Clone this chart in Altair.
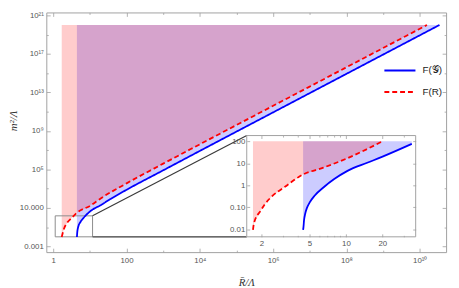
import math
import altair as alt
import pandas as pd

# ---------------- data ----------------
series_names = ["F(𝒢)", "F(R)"]
series_colors = ["#0000ff", "#ff0000"]

# main panel curves (R/Λ , m²/Λ)
red_main_x = [1.70, 1.96, 2.44, 3.13, 4.36, 10.3, 20.1, 100, 1e3, 1e4, 1e6, 1e8, 1.58e10]
red_main_y = [0.0092, 0.067, 0.31, 0.85, 2.96, 17, 100, 3500, 3.9e5, 4.0e7, 4.0e11, 4.0e15, 1e20]
blue_main_x = [4.42, 4.50, 4.75, 5.5, 6.62, 10.3, 20.1, 35.1, 100, 1e3, 1e4, 1e6, 1e8, 3.47e10]
blue_main_y = [0.0092, 0.025, 0.09, 0.33, 0.85, 4.5, 20, 76, 750, 7.9e4, 8.2e6, 8.3e10, 8.3e14, 1e20]
main_fill_top = 1e20

# inset curves
red_inset_x = [1.70, 1.73, 1.96, 2.13, 2.44, 3.13, 4.36, 6.5, 10.3, 20.1]
red_inset_y = [0.0092, 0.018, 0.067, 0.135, 0.31, 0.85, 2.96, 6.3, 17, 100]
blue_inset_x = [4.42, 4.45, 4.50, 4.60, 4.75, 5.0, 5.5, 6.62, 8.0, 10.3, 15.0, 20.1, 35.1]
blue_inset_y = [0.0092, 0.012, 0.025, 0.05, 0.09, 0.16, 0.33, 0.85, 1.9, 4.5, 10.5, 20, 76]
inset_fill_top = 100

# tick labels
main_x_labels = {1.0: "1", 100.0: "100", 1e4: "10⁴", 1e6: "10⁶", 1e8: "10⁸", 1e10: "10¹⁰"}
main_y_labels = {0.001: "0.001", 10.0: "10.000", 1e5: "10⁵", 1e9: "10⁹", 1e13: "10¹³",
                 1e17: "10¹⁷", 1e21: "10²¹"}
inset_x_labels = {2.0: "2", 5.0: "5", 10.0: "10", 20.0: "20"}
inset_y_labels = {0.01: "0.01", 0.1: "0.10", 1.0: "1", 10.0: "10", 100.0: "100"}
main_x_ticks = [10.0 ** k for k in range(0, 11)]
main_y_ticks = [0.001, 0.1, 10.0] + [10.0 ** k for k in range(3, 22, 2)]
inset_x_ticks = [2.0, 3.0, 4.0, 5.0, 6.0, 7.0, 8.0, 9.0, 10.0, 20.0, 30.0]
inset_y_ticks = [0.01, 0.1, 1.0, 10.0, 100.0]

# domains / placement
X_DOM = [10 ** -0.19, 10 ** 10.72]
Y_DOM = [10 ** -3.6, 10 ** 21.3]
inset_x_dom = [1.51, 37.8]
inset_y_dom = [10 ** -2.35, 10 ** 2.26]
inset_at_x = [10 ** 5.28, 10 ** 9.89]     # inset placement, in main-panel units
inset_at_y = [10 ** -2.01, 10 ** 8.51]
zoom_box_x = [1.13, 11.8]
zoom_box_y = [10 ** -2.01, 1.48]

# ---------------- layout ----------------
W, H = 407, 244
FONT = "Liberation Sans"
TFONT = "Liberation Serif"
GRAY = "#a0a0a0"


def lg(v):
    return math.log10(v)


def px(v):
    return W * (lg(v) - lg(X_DOM[0])) / (lg(X_DOM[1]) - lg(X_DOM[0]))


def py(v):
    return H * (lg(Y_DOM[1]) - lg(v)) / (lg(Y_DOM[1]) - lg(Y_DOM[0]))


IX_RANGE = [px(inset_at_x[0]), px(inset_at_x[1])]
IY_RANGE = [py(inset_at_y[0]), py(inset_at_y[1])]


def lab_expr(mapping):
    s = "''"
    for v, t in reversed(list(mapping.items())):
        s = f"datum.value == {v!r} ? '{t}' : ({s})"
    return s


def mk_axis(orient, values, offset, tick, label_map=None, minor_test=None, zindex=0,
            title=None, label_padding=3, **extra):
    kw = dict(orient=orient, values=values, offset=offset, tickSize=tick, domain=False,
              grid=False, tickColor=GRAY, tickWidth=0.8, zindex=zindex,
              labelFont=FONT, labelFontSize=8, labelColor="#555555",
              labelPadding=label_padding, labelFlush=False, labelOverlap=False)
    if label_map:
        kw["labelExpr"] = lab_expr(label_map)
    else:
        kw["labels"] = False
    if minor_test:
        h = tick / 2
        kw["tickDash"] = {"condition": {"test": minor_test, "value": [0, h, h, 0]},
                          "value": [tick, 0]}
    kw["title"] = title
    kw.update(extra)
    return alt.Axis(**kw)


minor_x_main = "abs(round(log(datum.value)/LN10)) % 2 == 1"
minor_y_main = "(round(log(datum.value)/LN10) + 3) % 4 != 0"
minor_x_inset = "datum.value != 2 && datum.value != 5 && datum.value != 10 && datum.value != 20"

title_kw = dict(titleFont=TFONT, titleFontStyle="italic", titleFontWeight="normal",
                titleFontSize=11, titleColor="#333333")


def sx_main():
    return alt.Scale(type="log", domain=X_DOM, nice=False)


def sy_main():
    return alt.Scale(type="log", domain=Y_DOM, nice=False)


def sx_in():
    return alt.Scale(type="log", domain=inset_x_dom, range=IX_RANGE, nice=False)


def sy_in():
    return alt.Scale(type="log", domain=inset_y_dom, range=IY_RANGE, nice=False)


ax_main_b = mk_axis("bottom", main_x_ticks, -4, 4, main_x_labels, minor_x_main,
                    title="R̄/Λ", label_padding=5, titlePadding=12, **title_kw)
ax_main_l = mk_axis("left", main_y_ticks, -4, 4, main_y_labels, minor_y_main,
                    title="m²/Λ", label_padding=3, titleX=-32, titleY=110,
                    titleBaseline="bottom", titleAngle=270, **title_kw)
ax_main_t = mk_axis("top", main_x_ticks, -4, 4, None, minor_x_main)
ax_main_r = mk_axis("right", main_y_ticks, -4, 4, None, minor_y_main)

ax_in_b = mk_axis("bottom", inset_x_ticks, IY_RANGE[0] - 3 - H, 3, inset_x_labels,
                  minor_x_inset, zindex=2, label_padding=3)
ax_in_l = mk_axis("left", inset_y_ticks, -(IX_RANGE[0] + 3), 3, inset_y_labels,
                  None, zindex=2, label_padding=2)
ax_in_t = mk_axis("top", inset_x_ticks, -(IY_RANGE[1] + 3), 3, None, minor_x_inset, zindex=2)
ax_in_r = mk_axis("right", inset_y_ticks, IX_RANGE[1] - 3 - W, 3, None, None, zindex=2)

# ---------------- data frames ----------------
red_main = pd.DataFrame({"x": red_main_x, "y": red_main_y, "top": main_fill_top,
                         "s": series_names[1]})
blue_main = pd.DataFrame({"x": blue_main_x, "y": blue_main_y, "top": main_fill_top,
                          "s": series_names[0]})
lines_main = pd.concat([blue_main, red_main], ignore_index=True)
red_in = pd.DataFrame({"x": red_inset_x, "y": red_inset_y, "top": inset_fill_top})
blue_in = pd.DataFrame({"x": blue_inset_x, "y": blue_inset_y, "top": inset_fill_top})

box_df = pd.DataFrame({"x": [zoom_box_x[0]], "x2": [zoom_box_x[1]],
                       "y": [zoom_box_y[0]], "y2": [zoom_box_y[1]]})
conn_df = pd.DataFrame({"x": [zoom_box_x[1], zoom_box_x[1]],
                        "x2": [inset_at_x[0], inset_at_x[0]],
                        "y": [zoom_box_y[1], zoom_box_y[0]],
                        "y2": [inset_at_y[1], inset_at_y[0]]})
inset_frame_df = pd.DataFrame({"x": [inset_x_dom[0]], "x2": [inset_x_dom[1]],
                               "y": [inset_y_dom[0]], "y2": [inset_y_dom[1]]})
main_frame_df = pd.DataFrame({"x": [X_DOM[0]], "y": [Y_DOM[0]]})


def XM(f="x"):
    return alt.X(f"{f}:Q", scale=sx_main(), axis=ax_main_b)


def YM(f="y"):
    return alt.Y(f"{f}:Q", scale=sy_main(), axis=ax_main_l)


def XI(f="x"):
    return alt.X(f"{f}:Q", scale=sx_in(), axis=ax_in_b)


def YI(f="y"):
    return alt.Y(f"{f}:Q", scale=sy_in(), axis=ax_in_l)


leg = alt.Legend(orient="none", legendX=343, legendY=42, title=None, symbolType="stroke",
                 symbolSize=1000, symbolStrokeWidth=2, labelFont=FONT, labelFontSize=10,
                 labelColor="#222222", labelOffset=6, rowPadding=0, labelLimit=60)

# ---------------- main panel ----------------
bluef = alt.Chart(blue_main).mark_area(color="#0000ff", opacity=0.2).encode(
    x=XM(), y=YM(), y2="top:Q")
pink = alt.Chart(red_main).mark_area(color="#ff0000", opacity=0.2).encode(
    x=XM(), y=YM(), y2="top:Q")
box = alt.Chart(box_df).mark_rect(fillOpacity=0, stroke="#8c8c8c", strokeWidth=1).encode(
    x=XM(), x2="x2:Q", y=YM(), y2="y2:Q")
conn = alt.Chart(conn_df).mark_rule(color="#3a3a3a", strokeWidth=1.2).encode(
    x=XM(), x2="x2:Q", y=YM(), y2="y2:Q")
lines = alt.Chart(lines_main).mark_line(strokeWidth=1.8, interpolate="monotone").encode(
    x=XM(), y=YM(),
    color=alt.Color("s:N", scale=alt.Scale(domain=series_names, range=series_colors), legend=leg),
    strokeDash=alt.StrokeDash("s:N", scale=alt.Scale(domain=series_names, range=[[1, 0], [5, 3]]),
                              legend=leg))
main = alt.layer(bluef, pink, box, conn, lines)

main_tr = alt.Chart(main_frame_df).mark_point(opacity=0).encode(
    x=alt.X("x:Q", scale=sx_main(), axis=ax_main_t),
    y=alt.Y("y:Q", scale=sy_main(), axis=ax_main_r))

# ---------------- inset ----------------
iframe = alt.Chart(inset_frame_df).mark_rect(fill="white", stroke=GRAY, strokeWidth=1).encode(
    x=XI(), x2="x2:Q", y=YI(), y2="y2:Q")
iblue = alt.Chart(blue_in).mark_area(color="#0000ff", opacity=0.2).encode(
    x=XI(), y=YI(), y2="top:Q")
ipink = alt.Chart(red_in).mark_area(color="#ff0000", opacity=0.2).encode(
    x=XI(), y=YI(), y2="top:Q")
iblue_l = alt.Chart(blue_in).mark_line(color=series_colors[0], strokeWidth=1.8,
                                       interpolate="monotone").encode(x=XI(), y=YI())
ired_l = alt.Chart(red_in).mark_line(color=series_colors[1], strokeWidth=1.8, strokeDash=[5, 3],
                                     interpolate="monotone").encode(x=XI(), y=YI())
inset = alt.layer(iframe, iblue, ipink, iblue_l, ired_l)

inset_tr = alt.Chart(inset_frame_df).mark_point(opacity=0).encode(
    x=alt.X("x:Q", scale=sx_in(), axis=ax_in_t),
    y=alt.Y("y:Q", scale=sy_in(), axis=ax_in_r))

chart = alt.layer(main, main_tr, inset, inset_tr).resolve_scale(
    x="independent", y="independent"
).properties(
    width=W, height=H,
    autosize=alt.AutoSizeParams(type="none"),
    padding={"left": 39, "top": 2, "right": 5, "bottom": 34},
).configure_view(stroke=GRAY, strokeWidth=1).configure_legend(
    symbolLimit=0, rowPadding=0, padding=0, offset=0
)

chart.save("out.html", embed_options={"renderer": "svg", "actions": False})
